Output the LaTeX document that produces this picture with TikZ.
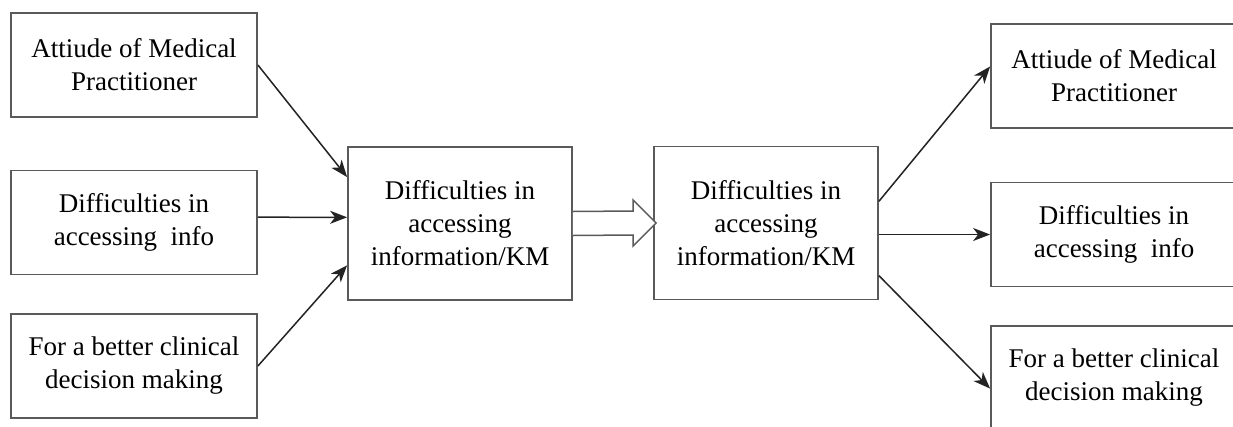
\documentclass[tikz,border=0pt]{standalone}
\usepackage{fontspec}
\setmainfont{Liberation Serif}
\usetikzlibrary{calc,arrows.meta}
\definecolor{boxgray}{RGB}{90,90,90}
\definecolor{arrowgray}{RGB}{35,35,35}
\begin{document}
\begin{tikzpicture}[x=1pt,y=-1pt,
  box/.style={draw=boxgray,line width=1.8pt,fill=white,align=center,inner sep=0pt,
    font=\fontsize{27}{33}\selectfont},
  sidebox/.style={box,minimum width=246pt,minimum height=104pt},
  midbox/.style={box,minimum width=224pt,minimum height=153pt},
  conn/.style={draw=arrowgray,line width=1.5pt,-{Stealth[length=17pt,width=13pt,inset=5pt]}},
  hollow/.style={draw=boxgray,line width=1.5pt,fill=white,line join=miter}]
\useasboundingbox (0,0) rectangle (1233,426);
\clip (0,0) rectangle (1233,426);
\fill[white] (0,0) rectangle (1233,426);
\node[sidebox] (L1) at (134,65) {Attiude of Medical\\Practitioner};
\node[sidebox] (L2) at (134,222.5) {Difficulties in\\accessing\ \ info};
\node[sidebox] (L3) at (134,366) {For a better clinical\\decision making};
\node[midbox] (C1) at (460,223.5) {Difficulties in\\accessing\\information/KM};
\node[midbox] (C2) at (766,223) {Difficulties in\\accessing\\information/KM};
\node[sidebox] (R1) at (1114,76) {Attiude of Medical\\Practitioner};
\node[sidebox] (R2) at (1114,234.5) {Difficulties in\\accessing\ \ info};
\node[sidebox] (R3) at (1114,378) {For a better clinical\\decision making};
% connectors
\draw[conn] (L1.east) -- ($(C1.north west)!0.2!(C1.south west)$);
\draw[conn] ($(L2.north east)!0.45!(L2.south east)$) -- ($(C1.north west)!0.46!(C1.south west)$);
\draw[conn] (L3.east) -- ($(C1.north west)!0.77!(C1.south west)$);
\draw[conn] ($(C2.north east)!0.36!(C2.south east)$) -- ($(R1.north west)!0.41!(R1.south west)$);
\draw[conn] (C2.east |- R2.west) -- (R2.west);
\draw[conn] ($(C2.north east)!0.84!(C2.south east)$) -- ($(R3.north west)!0.6!(R3.south west)$);
% hollow block arrow
\coordinate (hs) at (C1.east);
\coordinate (ht) at (C2.west);
\draw[hollow] ($(hs)+(0,-12)$) -- ($(ht)+(-20,-12)$) -- ($(ht)+(-20,-23)$) -- ($(ht)+(3,0)$)
  -- ($(ht)+(-20,23)$) -- ($(ht)+(-20,12)$) -- ($(hs)+(0,12)$);
\end{tikzpicture}
\end{document}
